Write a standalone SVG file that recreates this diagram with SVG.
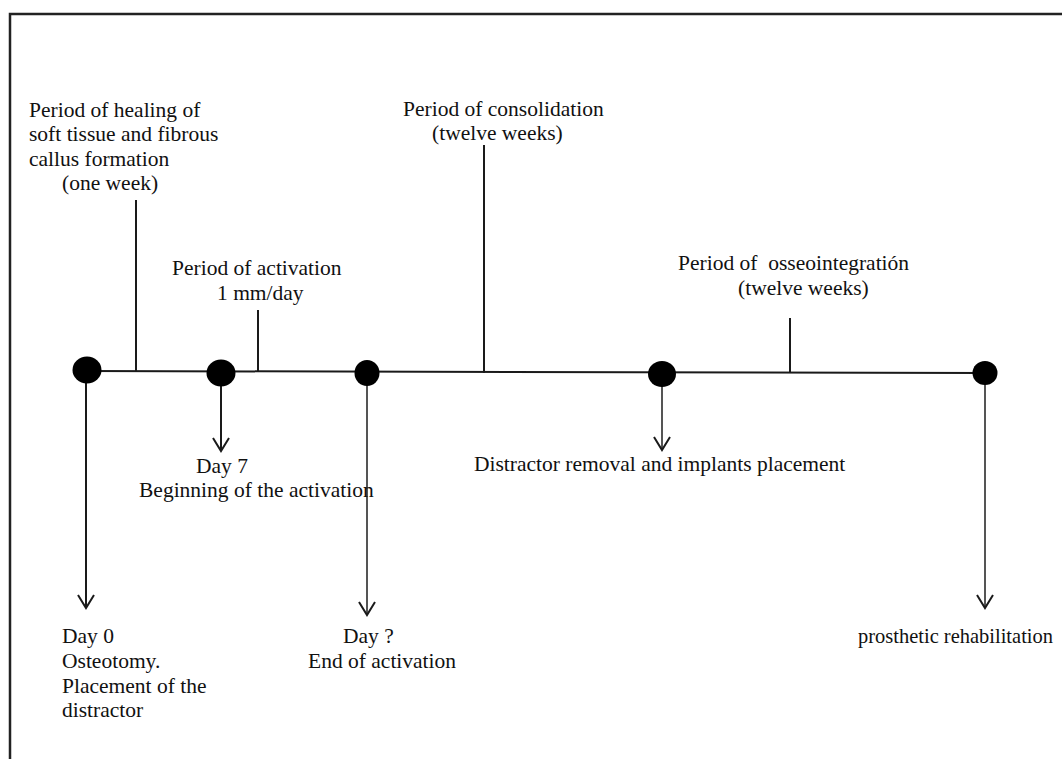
<svg xmlns="http://www.w3.org/2000/svg" width="1062" height="759" viewBox="0 0 1062 759">
<defs>
<style>
.t{font-family:"Liberation Serif","Times New Roman",serif;font-size:21.5px;fill:#111;white-space:pre}
.ln{stroke:#1a1a1a;stroke-width:2;fill:none}
.ar{stroke:#1a1a1a;stroke-width:2;fill:none;marker-end:url(#v)}
.ag{stroke:#555;stroke-width:2;fill:none;marker-end:url(#v)}
.dot{fill:#000}
</style>
<marker id="v" markerUnits="userSpaceOnUse" markerWidth="30" markerHeight="30" viewBox="-15 -15 30 30" refX="0" refY="0" orient="auto" overflow="visible">
<path d="M-13,-8 L0,0 L-13,8" fill="none" stroke="#1a1a1a" stroke-width="2"/>
</marker>
</defs>
<rect width="1062" height="759" fill="#fff"/>
<path d="M10,759 V14 H1062" fill="none" stroke="#222" stroke-width="2.5"/>
<g id="connectors">
<path class="ln" d="M86,371 L985,373"/>
<path class="ln" d="M136,200 V371"/>
<path class="ln" d="M258,310 V372"/>
<path class="ln" d="M484,145 V373"/>
<path class="ln" d="M790,318 V373"/>
<path class="ar" d="M86,371 V608"/>
<path class="ar" d="M221,373 V451"/>
<path class="ag" d="M367,373 V615"/>
<path class="ag" d="M662,374 V450"/>
<path class="ag" d="M985,373 V608"/>
</g>
<g id="n1"><ellipse class="dot" cx="87" cy="370" rx="14.5" ry="13.5"/></g>
<g id="n2"><ellipse class="dot" cx="221" cy="373" rx="14.5" ry="13.5"/></g>
<g id="n3"><ellipse class="dot" cx="367" cy="373" rx="12.5" ry="13"/></g>
<g id="n4"><ellipse class="dot" cx="662" cy="374" rx="14" ry="13"/></g>
<g id="n5"><ellipse class="dot" cx="985" cy="373" rx="12.5" ry="12"/></g>
<g id="label-healing">
<text class="t" x="29" y="117">Period of healing of</text>
<text class="t" x="29" y="141">soft tissue and fibrous</text>
<text class="t" x="29" y="166">callus formation</text>
<text class="t" x="62" y="190">(one week)</text>
</g>
<g id="label-activation">
<text class="t" x="172" y="275">Period of activation</text>
<text class="t" x="217" y="300">1 mm/day</text>
</g>
<g id="label-consolidation">
<text class="t" x="403" y="116">Period of consolidation</text>
<text class="t" x="432" y="140">(twelve weeks)</text>
</g>
<g id="label-osseo">
<text class="t" x="678" y="270">Period of  osseointegratión</text>
<text class="t" x="738" y="295">(twelve weeks)</text>
</g>
<g id="label-day7">
<text class="t" x="196" y="473">Day 7</text>
<text class="t" x="139" y="497">Beginning of the activation</text>
</g>
<g id="label-removal">
<text class="t" x="474" y="471">Distractor removal and implants placement</text>
</g>
<g id="label-day0">
<text class="t" x="62" y="643">Day 0</text>
<text class="t" x="62" y="668">Osteotomy.</text>
<text class="t" x="62" y="693">Placement of the</text>
<text class="t" x="62" y="717">distractor</text>
</g>
<g id="label-dayq">
<text class="t" x="343" y="643">Day ?</text>
<text class="t" x="308" y="668">End of activation</text>
</g>
<g id="label-prosthetic">
<text class="t" x="858" y="643" textLength="195" lengthAdjust="spacingAndGlyphs">prosthetic rehabilitation</text>
</g>
</svg>
